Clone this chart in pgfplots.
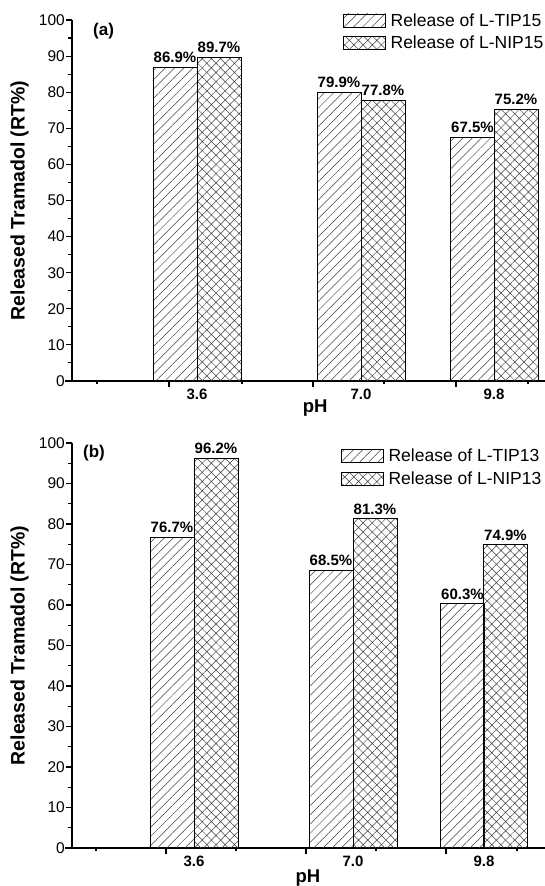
\documentclass[border=0pt]{standalone}
\usepackage{fontspec}
\setmainfont{Liberation Sans}
\usepackage{pgfplots}
\pgfplotsset{compat=1.18}
\usetikzlibrary{patterns.meta}

\newcommand\fs[1]{\fontsize{#1bp}{#1bp}\selectfont}

\pgfplotsset{
 panel/.style={
  xmin=72, xmax=545, ymin=0, ymax=100,
  x=1bp, clip=false,
  axis x line*=bottom, axis y line*=left,
  axis line style={-, line width=1.2bp, black},
  x axis line style={shorten <=-7bp},
  tick align=outside,
  major tick length=6bp, minor tick length=3.5bp,
  tick style={black, line width=1.1bp},
  ytick={0,10,...,100}, minor ytick={5,15,...,95},
  /pgf/number format/assume math mode=true,
  yticklabel style={font=\fs{15.5}, inner sep=1bp},
  xticklabels={},
  extra x tick style={major tick length=0pt, xticklabel style={font=\bfseries\fs{15}, inner sep=0pt, yshift=-8bp}},
  extra x tick labels={3.6,7.0,9.8},
  ybar, bar shift=0pt, bar width=44bp,
  nodes near coords={\pgfmathprintnumber[fixed,fixed zerofill,precision=1]{\pgfplotspointmeta}\%},
  every node near coord/.append style={font=\bfseries\fs{15}, inner sep=0pt, yshift=4bp, text=black},
  xlabel={pH}, ylabel={Released Tramadol (RT\%)},
  xlabel style={font=\bfseries\fs{18.5}, anchor=center},
  ylabel style={font=\bfseries\fs{19.5}, at={(axis description cs:-0.091,0.5)}, anchor=south, inner sep=0pt},
  legend style={draw=none, fill=none, inner sep=0pt, font=\fs{17.5}, row sep=8bp, anchor=north west,
     nodes={inner sep=0pt}},
  legend cell align=left,
  legend image code/.code={\draw[##1, line width=0.8bp] (0bp,-6.5bp) rectangle (42bp,6.5bp);
     \draw[draw=none] (42bp,0bp) -- (47bp,0bp);},
 },
 tip/.style={draw=black, line width=0.9bp, pattern={Lines[angle=45,distance=6.5bp,line width=0.5bp]}, pattern color=black!75},
 nip/.style={draw=black, line width=0.9bp, pattern={Hatch[angle=45,distance=6.5bp,line width=0.5bp]}, pattern color=black!75},
}

\begin{document}
\begin{tikzpicture}
\useasboundingbox (0bp,0bp) rectangle (545bp,886bp);
\clip (0bp,0bp) rectangle (545bp,886bp);

% (a)
\begin{axis}[panel, at={(72bp,505bp)}, anchor=south west, y=3.61bp,
  xtick={169,313,456}, minor xtick={97,242,384,528},
  extra x ticks={197,361,494},
  xlabel style={at={(axis description cs:0.514,-0.075)}},
  legend style={at={(axis description cs:0.5730,1.019)}}]
\addplot[tip] coordinates {(175,86.9) (339,79.9) (472.5,67.5)};
\addplot[nip] coordinates {(219,89.7) (383,77.8) (516,75.2)};
\legend{Release of L-TIP15, Release of L-NIP15}
\node[font=\bfseries\fs{17}, anchor=west, inner sep=0pt] at (axis cs:93,96.9) {(a)};
\end{axis}

% (b)
\begin{axis}[panel, at={(72bp,38bp)}, anchor=south west, y=4.05bp,
  xtick={166,306,446}, minor xtick={96,236,376,517},
  extra x ticks={194,353,484},
  xlabel style={at={(axis description cs:0.499,-0.075)}},
  legend style={at={(axis description cs:0.5687,0.985)}}]
\addplot[tip] coordinates {(172,76.7) (331,68.5) (462.5,60.3)};
\addplot[nip] coordinates {(216,96.2) (375,81.3) (505.5,74.9)};
\legend{Release of L-TIP13, Release of L-NIP13}
\node[font=\bfseries\fs{17}, anchor=west, inner sep=0pt] at (axis cs:83,97.5) {(b)};
\end{axis}
\end{tikzpicture}
\end{document}
